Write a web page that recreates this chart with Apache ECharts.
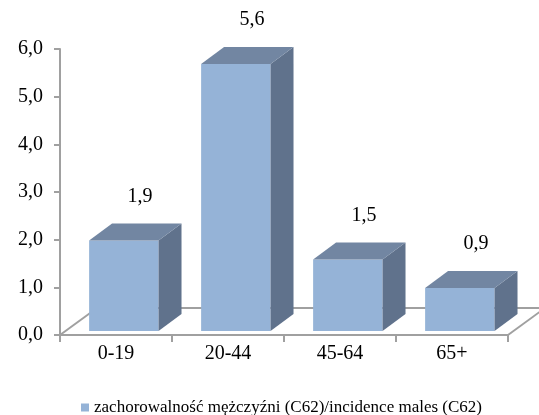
<!DOCTYPE html>
<html>
<head>
<meta charset="utf-8">
<script src="https://cdn.jsdelivr.net/npm/echarts@6/dist/echarts.min.js"></script>
<style>
  html, body { margin: 0; padding: 0; background: #fff; }
  #chart { width: 539px; height: 415px; }
</style>
</head>
<body>
<div id="chart"></div>
<script>
// dane
const categories = ['0-19', '20-44', '45-64', '65+'];
const incidenceMales = [1.9, 5.6, 1.5, 0.9];
const seriesName = 'zachorowalność mężczyźni (C62)/incidence males (C62)';

const FONT = "'Liberation Serif', 'Times New Roman', serif";
const AXIS_GRAY = '#a0a0a0';

const fmt = v => Number(v).toFixed(1).replace('.', ',');

// podloga wykresu 3D
const renderFloor = (params, api) => {
  const cs = params.coordSys;
  const x0 = cs.x, x1 = cs.x + cs.width, yb = cs.y + cs.height;
  const dx = 37, dy = -27;
  const style = { stroke: AXIS_GRAY, lineWidth: 2, fill: null };
  return {
    type: 'group',
    children: [
      { type: 'line', shape: { x1: x0, y1: yb, x2: x0 + dx, y2: yb + dy }, style },
      { type: 'line', shape: { x1: x0 + dx, y1: yb + dy, x2: x1 + dx, y2: yb + dy }, style },
      { type: 'line', shape: { x1: x1, y1: yb, x2: x1 + dx, y2: yb + dy }, style }
    ]
  };
};

// slupek 3D
const renderBar = (params, api) => {
  const idx = api.value(0);
  const val = api.value(1);
  const top = api.coord([idx, val]);
  const base = api.coord([idx, 0]);
  const band = api.size([1, 0])[0];
  const x0 = top[0] - band * 0.24;
  const w = band * 0.62;
  const yb = base[1] - 4;
  const yt = top[1] - 4;
  const dx = band * 0.205, dy = -band * 0.152;
  return {
    type: 'group',
    children: [
      {
        type: 'rect',
        shape: { x: x0, y: yt, width: w, height: yb - yt },
        style: { fill: '#95b3d7' }
      },
      {
        type: 'polygon',
        shape: { points: [[x0 + w, yt], [x0 + w + dx, yt + dy], [x0 + w + dx, yb + dy], [x0 + w, yb]] },
        style: { fill: '#60728c' }
      },
      {
        type: 'polygon',
        shape: { points: [[x0, yt], [x0 + dx, yt + dy], [x0 + w + dx, yt + dy], [x0 + w, yt]] },
        style: { fill: '#7286a2' }
      },
      {
        type: 'text',
        style: {
          x: top[0] + 24,
          y: yt - 44,
          text: fmt(val),
          fill: '#000',
          font: '20px ' + FONT,
          align: 'center',
          verticalAlign: 'middle'
        }
      }
    ]
  };
};

const chart = echarts.init(document.getElementById('chart'));

chart.setOption({
  animation: false,
  backgroundColor: '#fff',
  grid: { left: 60, right: 31, top: 49, bottom: 80 },
  legend: {
    data: [seriesName],
    left: 76,
    top: 394,
    icon: 'rect',
    itemWidth: 8,
    itemHeight: 8,
    textStyle: { fontFamily: FONT, fontSize: 17, color: '#000' }
  },
  xAxis: {
    type: 'category',
    data: categories,
    axisLine: { lineStyle: { color: AXIS_GRAY, width: 2 } },
    axisTick: { show: true, length: 7, lineStyle: { color: AXIS_GRAY, width: 2 } },
    axisLabel: { color: '#000', fontFamily: FONT, fontSize: 20, margin: 9 }
  },
  yAxis: {
    type: 'value',
    min: 0,
    max: 6,
    interval: 1,
    axisLine: { show: true, lineStyle: { color: AXIS_GRAY, width: 2 } },
    axisTick: { show: true, length: 6, lineStyle: { color: AXIS_GRAY, width: 2 } },
    splitLine: { show: false },
    axisLabel: { color: '#000', fontFamily: FONT, fontSize: 20, margin: 17, formatter: fmt }
  },
  series: [
    {
      name: 'floor',
      type: 'custom',
      silent: true,
      z: 1,
      renderItem: renderFloor,
      data: [[0, 0]]
    },
    {
      name: seriesName,
      type: 'custom',
      z: 2,
      itemStyle: { color: '#95b3d7' },
      renderItem: renderBar,
      encode: { x: 0, y: 1 },
      data: incidenceMales.map((v, i) => [i, v])
    }
  ]
});
</script>
</body>
</html>
